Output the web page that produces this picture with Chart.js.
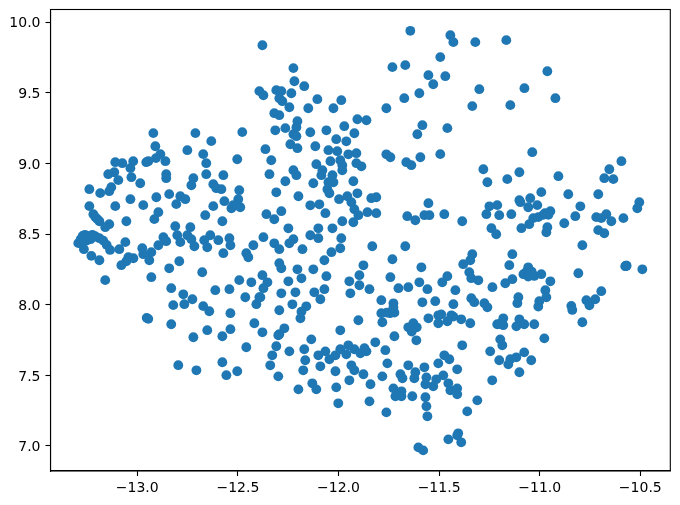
<!DOCTYPE html>
<html>
<head>
<meta charset="utf-8">
<title>Scatter</title>
<script src="https://cdn.jsdelivr.net/npm/chart.js@4"></script>
<style>
  html, body { margin:0; padding:0; background:#fff; }
  canvas { display:block; }
</style>
</head>
<body>
<canvas id="scatterChart" width="680" height="505"></canvas>
<script>
/* ---------- values ---------- */
const xTicks = [-13.0, -12.5, -12.0, -11.5, -11.0, -10.5];
const yTicks = [7.0, 7.5, 8.0, 8.5, 9.0, 9.5, 10.0];

const xValues = [
  -12.920,-12.711,-12.478,-12.910,-12.632,-12.751,-12.672,-12.885,-12.907,-12.860,-12.945,-12.955,-13.020,-13.074,-13.109,-12.657,-12.503,-13.034,-13.114,-13.144,
  -12.856,-12.856,-12.657,-12.572,-13.029,-13.094,-12.721,-12.985,-12.731,-12.622,-12.607,-12.582,-12.493,-13.238,-13.129,-13.184,-13.139,-12.841,-12.786,-12.761,
  -12.905,-13.034,-12.806,-12.970,-13.109,-13.238,-12.567,-12.498,-12.622,-12.532,-12.523,-12.488,-12.895,-12.915,-12.662,-12.577,-13.054,-13.218,-13.208,-13.198,
  -13.188,-13.139,-13.159,-12.811,-12.736,-12.801,-12.751,-12.731,-12.786,-12.716,-12.637,-12.667,-12.597,-12.542,-12.537,-12.652,-12.572,-12.423,-12.458,-12.448,
  -12.870,-12.856,-12.895,-13.059,-13.089,-12.975,-12.930,-12.970,-12.940,-13.019,-13.044,-13.054,-13.079,-12.791,-12.841,-12.677,-12.930,-13.159,-12.493,-12.433,
  -13.293,-13.281,-13.271,-13.260,-13.243,-13.223,-13.207,-13.188,-13.169,-13.152,-13.135,-13.276,-13.251,-13.265,-13.228,-13.188,-13.265,-13.232,
  -12.831,-12.771,-12.726,-12.612,-12.542,-12.463,-12.821,-12.766,-12.672,-12.642,-12.537,-12.408,-12.393,-12.953,-12.945,-12.831,-12.418,-12.652,-12.537,-12.721,
  -12.577,-12.458,-12.796,-12.577,-12.706,-12.503,-12.557,
  -12.378,-12.224,-12.219,-12.170,-12.393,-12.373,-12.309,-12.284,-12.234,-12.294,-12.279,-12.105,-11.986,-12.244,-12.150,-12.025,-12.319,-12.294,-11.732,-11.668,
  -11.643,-11.553,-11.598,-11.673,-11.762,-11.906,-11.861,-12.204,-12.209,-11.971,-12.264,-12.314,-12.060,-12.140,-12.224,-12.209,-11.921,-11.583,-11.608,-12.011,
  -11.961,-12.239,-12.204,-12.115,-12.363,-12.050,-12.006,-11.951,-11.911,-11.762,-11.742,-11.593,-11.663,-11.638,-12.334,-12.040,-11.991,-12.110,-11.911,-11.886,
  -11.981,-11.981,-12.080,-12.224,-12.209,-12.343,-12.085,-12.030,-12.264,-12.125,-12.050,-12.025,-11.926,-12.309,-12.055,-12.045,-11.906,-12.199,-11.956,-11.997,
  -11.837,-11.812,
  -12.140,-12.095,-12.065,-11.936,-11.921,-11.901,-11.856,-11.812,-11.981,-11.926,-12.358,-12.284,-12.319,-12.249,-12.030,-12.100,-12.140,-12.100,-11.986,-12.373,
  -12.224,-12.244,-12.319,-12.294,-12.179,-11.991,-12.035,-11.832,-11.668,-11.658,-11.618,-11.573,-11.548,-11.553,-12.070,-12.294,-12.284,-12.204,-12.125,-11.732,
  -11.876,-11.588,-11.896,-12.060,-12.378,-12.184,-12.353,-12.249,-11.946,-11.742,-11.598,-12.373,-11.896,-12.070,-11.846,-11.702,-11.653,-11.558,-12.214,-12.120,
  -12.284,-11.941,-12.388,-12.090,-11.787,-11.583,-12.229,-11.727,-12.160,
  -12.294,-12.184,-12.189,-12.378,-12.269,-12.294,-12.299,-11.991,-11.901,-11.787,-11.782,-11.744,-11.722,-11.760,-11.727,-11.722,-11.653,-11.628,-11.611,-11.636,
  -11.613,-11.553,-12.135,-12.309,-11.817,-12.244,-12.170,-12.329,-12.100,-12.065,-12.045,-12.015,-11.991,-11.951,-11.961,-11.921,-11.891,-11.871,-11.861,-11.767,
  -12.165,-12.339,-12.090,-11.936,-11.757,-11.921,-12.175,-12.015,-11.653,-11.573,-12.299,-11.876,-11.946,-11.782,-11.692,-11.682,-11.618,-11.623,-11.563,-12.130,
  -11.841,-11.568,-12.199,-12.110,-12.011,-11.727,-11.687,-11.717,-11.687,-11.633,-11.568,-11.846,-12.001,-11.563,-11.762,-11.558,
  -11.444,-11.429,-11.320,-11.166,-11.494,-10.962,-11.469,-11.529,-11.300,-11.076,-10.922,-11.335,-11.146,-11.459,-11.494,-11.037,-11.280,-10.594,-10.654,-10.679,
  -10.634,-11.101,-11.161,-10.907,-11.260,
  -10.992,-10.858,-10.709,-11.250,-11.211,-11.101,-11.096,-11.047,-11.057,-11.012,-10.798,-10.505,-10.515,-11.474,-11.385,-11.265,-11.201,-11.141,-10.947,-10.957,
  -10.982,-11.007,-11.032,-11.052,-10.974,-11.091,-10.962,-10.967,-11.240,-11.216,-10.878,-10.823,-10.719,-10.694,-10.669,-10.644,-10.584,-10.709,-10.679,-10.788,
  -11.335,-11.136,-11.345,-11.380,-11.151,-10.574,-10.568,-10.570,-10.574,-10.490,-10.808,-11.350,-11.340,-11.305,-11.459,-11.484,-11.057,-11.065,-11.081,-11.057,
  -11.027,-11.040,-10.992,-11.136,-11.171,-10.947,-11.235,-11.419,-10.972,-10.694,-11.106,-10.967,-11.340,-11.325,-11.519,-11.429,-11.275,-11.260,-11.111,-11.002,
  -11.007,-10.768,-10.724,-10.753,-10.843,-10.838,
  -11.504,-11.489,-11.504,-11.459,-11.439,-11.429,-11.390,-11.345,-11.211,-11.181,-11.181,-11.198,-11.116,-11.101,-11.077,-11.027,-10.788,-10.977,-11.196,-11.186,
  -11.385,-11.246,-11.077,-11.201,-11.116,-11.146,-11.156,-11.042,-11.474,-11.449,-11.504,-11.410,-11.101,-11.479,-11.514,-11.236,-11.529,-11.454,-11.410,-11.444,
  -11.410,-11.310,-11.360,-11.405,-11.410,-11.454,-11.390,-11.603,-11.579
];

const yValues = [
  9.215,9.215,9.222,9.122,9.158,9.094,9.066,9.066,9.038,9.016,9.016,9.009,9.016,9.002,9.009,9.002,9.030,8.967,8.938,8.924,
  8.924,8.896,8.924,8.917,8.903,8.882,8.896,8.860,8.846,8.853,8.825,8.818,8.811,8.818,8.832,8.790,8.804,8.783,8.768,8.747,
  8.761,8.747,8.712,8.705,8.698,8.698,8.733,8.747,8.698,8.683,8.705,8.690,8.655,8.606,8.634,8.591,8.591,8.641,8.620,8.606,
  8.591,8.570,8.549,8.556,8.549,8.492,8.492,8.464,8.443,8.414,8.492,8.457,8.457,8.471,8.421,8.407,8.365,8.421,8.365,8.336,
  8.478,8.450,8.421,8.443,8.393,8.400,8.372,8.358,8.315,8.329,8.336,8.308,8.280,8.308,8.258,8.230,8.195,8.174,8.174,8.159,
  8.436,8.464,8.487,8.495,8.483,8.495,8.483,8.471,8.454,8.424,8.388,8.431,8.454,8.393,8.346,8.315,8.459,8.464,
  8.117,8.074,8.039,8.103,8.110,8.053,7.997,8.004,7.990,7.954,7.940,8.004,8.053,7.907,7.900,7.862,7.869,7.820,7.827,7.770,
  7.777,7.699,7.572,7.593,7.536,7.529,7.501,
  9.837,9.675,9.582,9.547,9.512,9.483,9.519,9.512,9.497,9.462,9.441,9.455,9.448,9.398,9.391,9.391,9.356,9.342,9.682,9.696,
  9.939,9.625,9.497,9.462,9.391,9.313,9.306,9.299,9.257,9.264,9.250,9.235,9.235,9.221,9.207,9.193,9.214,9.271,9.207,9.172,
  9.157,9.136,9.108,9.122,9.101,9.094,9.087,9.065,9.073,9.065,9.044,9.044,9.009,8.988,9.023,9.016,9.023,8.995,9.002,8.980,
  8.988,8.952,8.952,8.952,8.917,8.924,8.917,8.917,8.874,8.860,8.867,8.867,8.874,8.796,8.818,8.789,8.789,8.768,8.768,8.747,
  8.754,8.761,
  8.704,8.711,8.648,8.726,8.676,8.634,8.655,8.648,8.591,8.584,8.641,8.662,8.605,8.541,8.541,8.541,8.492,8.471,8.471,8.478,
  8.464,8.435,8.435,8.393,8.393,8.400,8.372,8.414,8.414,8.627,8.598,8.634,8.634,8.719,8.315,8.294,8.258,8.251,8.251,8.322,
  8.279,8.265,8.209,8.202,8.209,8.187,8.159,8.166,8.166,8.195,8.159,8.117,8.138,8.110,8.110,8.117,8.124,8.110,8.088,8.088,
  8.081,8.081,8.053,8.039,8.032,8.017,8.003,8.010,7.989,
  7.961,7.951,7.904,7.805,7.833,7.791,7.784,7.819,7.890,7.940,7.876,7.940,7.944,7.944,7.982,7.777,7.840,7.869,7.840,7.810,
  7.748,7.904,7.755,7.706,7.734,7.670,7.685,7.642,7.642,7.670,7.614,7.642,7.685,7.713,7.649,7.685,7.656,7.692,7.670,7.678,
  7.607,7.571,7.564,7.571,7.585,7.536,7.536,7.529,7.571,7.557,7.493,7.508,7.465,7.493,7.508,7.479,7.522,7.479,7.486,7.444,
  7.437,7.437,7.401,7.401,7.415,7.408,7.387,7.352,7.352,7.352,7.345,7.316,7.302,7.281,7.238,7.210,
  9.908,9.859,9.859,9.873,9.753,9.653,9.618,9.561,9.526,9.533,9.462,9.406,9.413,9.250,9.066,9.080,8.959,9.016,8.959,8.896,
  8.889,8.938,8.889,8.910,8.867,
  8.797,8.782,8.782,8.697,8.705,8.740,8.726,8.754,8.690,8.705,8.697,8.726,8.683,8.641,8.591,8.641,8.634,8.641,8.662,8.636,
  8.636,8.620,8.613,8.570,8.648,8.542,8.549,8.513,8.542,8.499,8.577,8.627,8.620,8.613,8.641,8.591,8.613,8.528,8.506,8.421,
  8.358,8.358,8.315,8.287,8.280,8.273,8.276,8.276,8.273,8.251,8.223,8.230,8.188,8.173,8.202,8.159,8.265,8.235,8.216,8.199,
  8.204,8.235,8.216,8.181,8.152,8.166,8.124,8.103,8.103,8.096,8.053,8.053,8.046,8.018,8.025,8.004,8.011,7.982,8.011,8.025,
  7.987,8.032,8.039,7.996,7.992,7.963,
  7.925,7.932,7.869,7.883,7.925,7.916,7.897,7.869,7.862,7.904,7.855,7.864,7.847,7.897,7.862,7.862,7.876,7.762,7.755,7.713,
  7.713,7.670,7.663,7.607,7.628,7.614,7.578,7.607,7.642,7.614,7.585,7.543,7.522,7.500,7.472,7.465,7.423,7.444,7.408,7.394,
  7.366,7.323,7.245,7.090,7.075,7.047,7.026,6.990,6.969
];

/* ---------- axes frame ---------- */
const X_RANGE = [-13.431, -10.351];
const Y_RANGE = [6.823, 10.09];
const BLUE = '#1f77b4';
const FONT = { family:'"DejaVu Sans"', size:14 };

const fmtTick = v => v.toFixed(1).replace('-', '\u2212');
const setTicks = list => axis => { axis.ticks = list.map(value => ({ value })); };

// all four spines, matplotlib style
const spines = {
  id:'spines',
  afterDraw (chart) {
    const { ctx, chartArea:a } = chart;
    ctx.save();
    ctx.strokeStyle = '#000';
    ctx.lineWidth = 1.1;
    ctx.strokeRect(a.left, a.top, a.right - a.left, a.bottom - a.top);
    ctx.restore();
  }
};

new Chart(document.getElementById('scatterChart'), {
  type:'scatter',
  data:{
    datasets:[{
      data:xValues.map((x,i) => ({ x, y:yValues[i] })),
      backgroundColor:BLUE,
      borderColor:BLUE,
      borderWidth:0,
      pointRadius:4.9
    }]
  },
  options:{
    responsive:false,
    animation:false,
    layout:{ padding:{ top:9.5, right:9.7, left:0, bottom:0 } },
    plugins:{ legend:{ display:false }, tooltip:{ enabled:false } },
    scales:{
      x:{
        type:'linear', min:X_RANGE[0], max:X_RANGE[1],
        afterBuildTicks:setTicks(xTicks),
        // no label overflow padding, the frame position is fixed
        afterFit:s => { s.height = 34; s.paddingLeft = 0; s.paddingRight = 0; },
        border:{ color:'#000', width:1.1 },
        grid:{ drawOnChartArea:false, color:'#000', tickLength:5, tickWidth:1.1 },
        ticks:{ callback:fmtTick, color:'#000', font:FONT, padding:4, maxRotation:0, autoSkip:false }
      },
      y:{
        type:'linear', min:Y_RANGE[0], max:Y_RANGE[1],
        afterBuildTicks:setTicks(yTicks),
        afterFit:s => { s.width = 50.5; s.paddingTop = 0; s.paddingBottom = 0; },
        border:{ color:'#000', width:1.1 },
        grid:{ drawOnChartArea:false, color:'#000', tickLength:5, tickWidth:1.1 },
        ticks:{ callback:fmtTick, color:'#000', font:FONT, padding:5, autoSkip:false, labelOffset:1.5 }
      }
    }
  },
  plugins:[spines]
});
</script>
</body>
</html>
